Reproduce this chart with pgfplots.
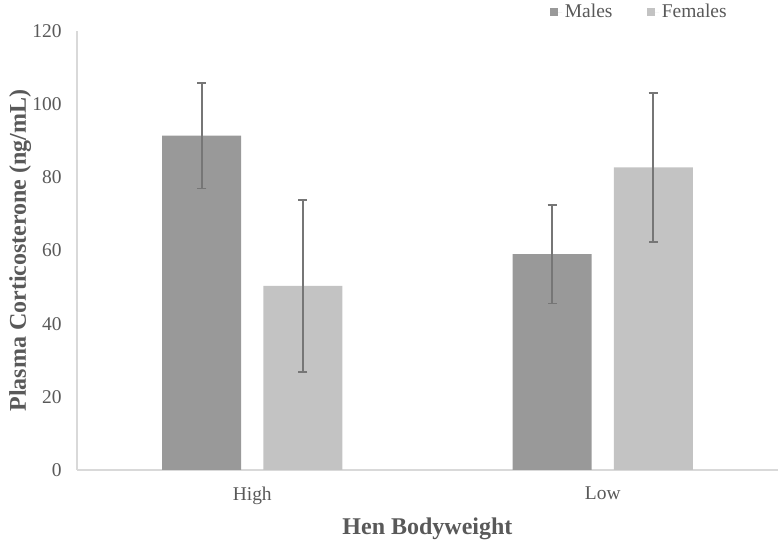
\documentclass[border=0pt]{standalone}
\usepackage{pgfplots}
\pgfplotsset{compat=1.18}
\usepackage{fontspec}
\setmainfont{Liberation Serif}
\definecolor{txt}{HTML}{595959}
\definecolor{males}{HTML}{999999}
\definecolor{females}{HTML}{C3C3C3}
\definecolor{err}{HTML}{767676}
\definecolor{axl}{HTML}{D9D9D9}
\begin{document}
\begin{tikzpicture}
\path[use as bounding box] (-57.75pt,-53.25pt) rectangle (527.25pt,352.5pt);
\begin{axis}[
  at={(0,0)}, anchor=south west,
  scale only axis, width=525.75pt, height=329.25pt,
  ybar,
  xmin=-0.5, xmax=1.5, ymin=0, ymax=120,
  xtick={0,1}, xticklabels={High,Low},
  ytick={0,20,40,60,80,100,120},
  axis x line*=bottom, axis y line*=left,
  axis line style={draw=axl, line width=0.9pt},
  x axis line style={-}, y axis line style={-},
  major tick length=0pt,
  tick label style={font=\fontsize{14.6}{16}\selectfont, text=txt},
  /pgf/number format/assume math mode=true,
  yticklabel style={xshift=-8pt},
  xticklabel style={yshift=-9pt},
  xlabel={Hen Bodyweight}, ylabel={Plasma Corticosterone (ng/mL)},
  label style={font=\bfseries\fontsize{18}{20}\selectfont, text=txt},
  xlabel style={yshift=-3pt},
  ylabel style={yshift=-6pt},
  legend columns=2,
  legend style={draw=none, fill=none, at={(0.669,1.043)}, anchor=west,
    font=\fontsize{14.6}{16}\selectfont, text=txt,
    /tikz/every even column/.append style={column sep=24pt}},
  legend image code/.code={\fill[#1] (0pt,-3pt) rectangle (6pt,3pt); \path (0pt,0pt) -- (9pt,0pt);},
  error bars/error bar style={draw=err, line width=1.2pt},
  error bars/error mark options={draw=err, line width=1.2pt, rotate=90, mark size=3.5pt},
]
\addplot[fill=males, draw=none, bar width=59.25pt, bar shift=-37.9pt,
  error bars/.cd, y dir=both, y explicit]
  coordinates {(0,91.4) +- (0,14.4) (1,59.0) +- (0,13.5)};
\addlegendentry{Males}
\addplot[fill=females, draw=none, bar width=59.25pt, bar shift=37.9pt,
  error bars/.cd, y dir=both, y explicit]
  coordinates {(0,50.3) +- (0,23.5) (1,82.7) +- (0,20.3)};
\addlegendentry{Females}
\end{axis}
\end{tikzpicture}
\end{document}
